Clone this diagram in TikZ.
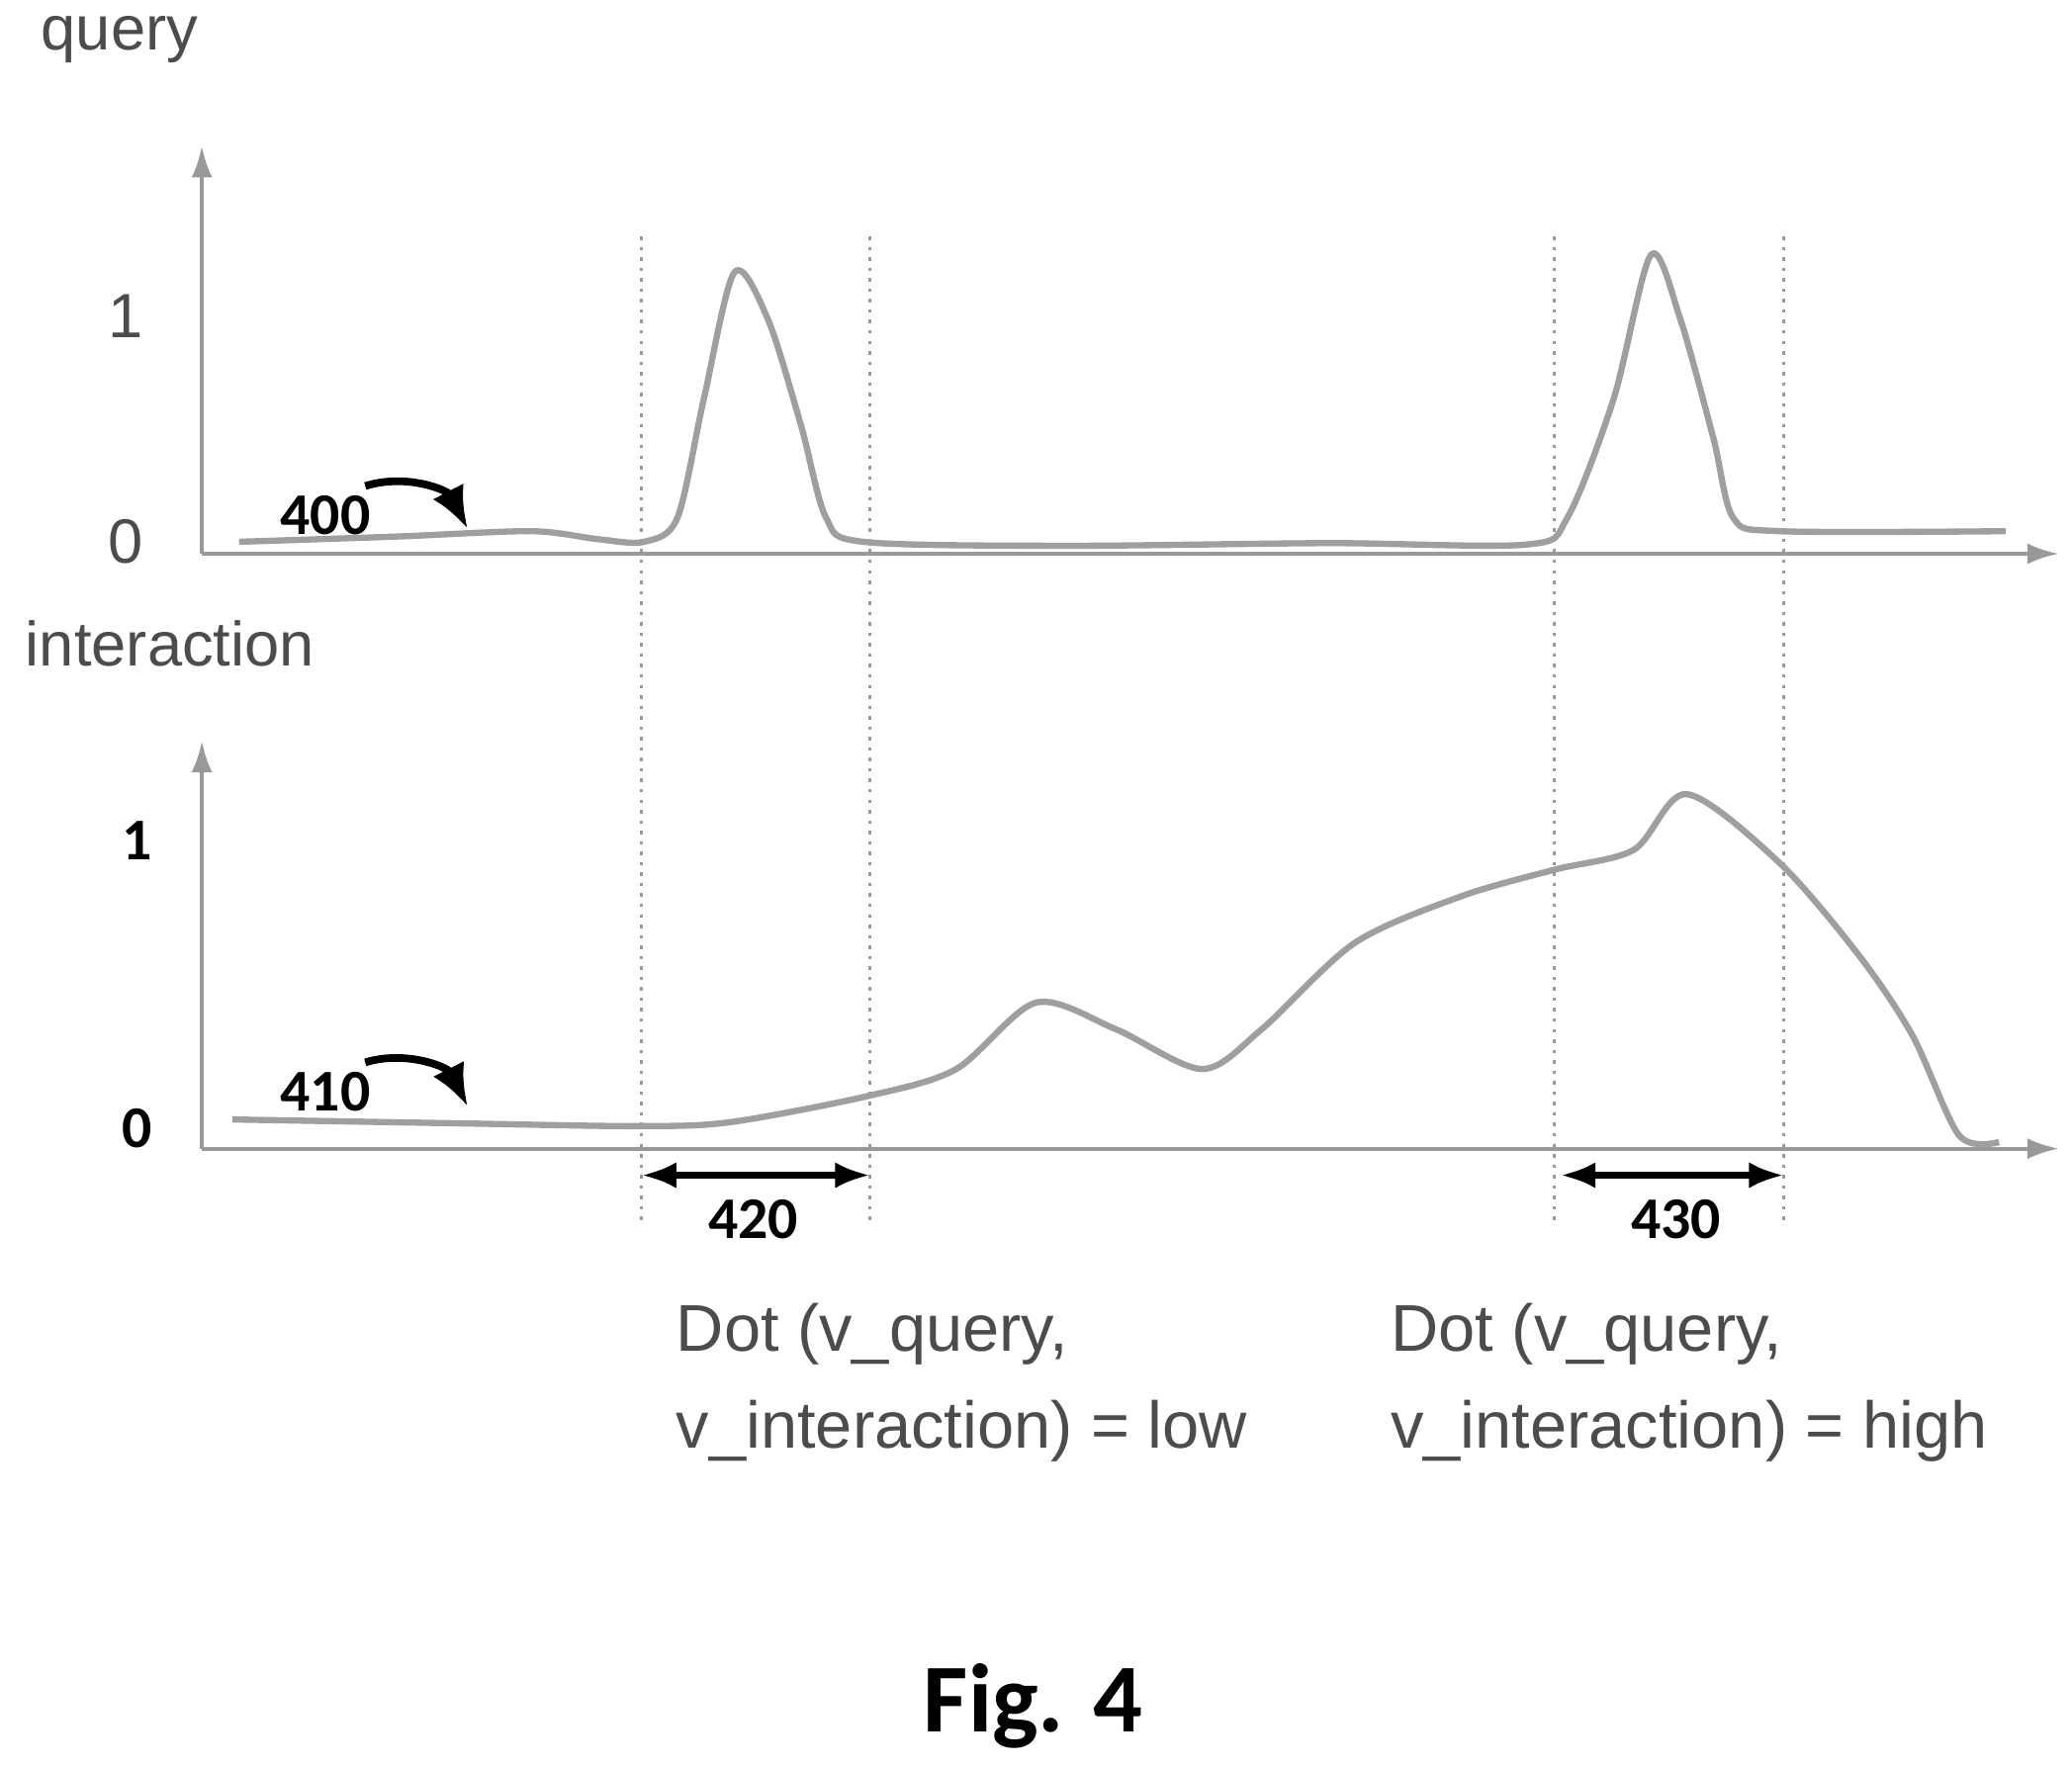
\documentclass[tikz,border=0pt]{standalone}
\usepackage{fontspec}
\setmainfont{Liberation Sans}
\newfontfamily\calib{Carlito}
\usetikzlibrary{arrows.meta}
\tikzset{
  axisline/.style={gray!80, line width=1.2pt, -{Latex[length=9pt,width=6pt]}},
  guide/.style={gray!80, line width=1pt, dotted},
  signal/.style={gray!75, line width=1.8pt},
  lbl/.style={font=\fontsize{18}{22}\selectfont, text=gray!60!black},
  refnum/.style={font=\calib\bfseries\fontsize{17}{20}\selectfont},
  pointer/.style={line width=2.2pt, -{Latex[length=12pt,width=10pt]}}
}
\begin{document}
\begin{tikzpicture}[x=0.01343cm, y=-0.01343cm]
        \useasboundingbox (0,0) rectangle (1560,1331);
        % axes, query panel
        \coordinate (qo) at (152,417);
        \draw[axisline] (qo) -- (152,110);
        \draw[axisline] (qo) -- (1550,417);
        \node[lbl] (qlab) at (90,30) {query};
        \node[lbl] (q1) at (95,238) {1};
        \node[lbl] (q0) at (95,408) {0};
        % axes, interaction panel
        \coordinate (io) at (152,865);
        \draw[axisline] (io) -- (152,558);
        \draw[axisline] (io) -- (1550,865);
        \node[lbl] (ilab) at (128,485) {interaction};
        \node[refnum] (i1) at (103,633) {1};
        \node[refnum] (i0) at (103,850) {0};

        % dotted guides
        \foreach \gx in {483,655,1170,1343}
            \draw[guide] (\gx,178) -- (\gx,920);

        % query signal
        \draw[signal] plot[smooth, tension=0.5] coordinates {
            (180,408) (300,404) (400,400) (450,406) (485,408) (510,390)
            (530,300) (553,205) (578,240) (603,320) (622,390) (650,408)
            (800,411) (1000,409) (1150,410) (1180,390) (1215,300) (1243,192)
            (1265,240) (1290,330) (1305,390) (1340,400) (1510,400)};
        \node[refnum] (n400) at (245,388) {400};
        \coordinate (s400) at (275,366);
        \coordinate (t400) at (352,398);
        \draw[pointer] (s400) to[bend left=40] (t400);

        % interaction signal
        \draw[signal] plot[smooth, tension=0.5] coordinates {
            (175,843) (350,846) (480,848) (550,845) (655,825) (720,805)
            (780,755) (840,775) (905,805) (950,775) (1020,710) (1100,675)
            (1170,655) (1230,640) (1270,598) (1340,650) (1400,720)
            (1440,780) (1475,855) (1505,860)};
        \node[refnum] (n410) at (245,822) {410};
        \coordinate (s410) at (275,800);
        \coordinate (t410) at (352,833);
        \draw[pointer] (s410) to[bend left=40] (t410);

        % windows
        \coordinate (w1a) at (483,885);
        \coordinate (w1b) at (655,885);
        \draw[line width=1.8pt, {Latex[length=10pt]}-{Latex[length=10pt]}] (w1a) -- (w1b);
        \node[refnum] (n420) at (567,918) {420};
        \coordinate (w2a) at (1175,885);
        \coordinate (w2b) at (1343,885);
        \draw[line width=1.8pt, {Latex[length=10pt]}-{Latex[length=10pt]}] (w2a) -- (w2b);
        \node[refnum] (n430) at (1262,918) {430};

        % dot products
        \node[lbl, anchor=north west, align=left, font=\fontsize{19}{28}\selectfont] (dlow) at (500,972)
            {Dot (v\_query,\\v\_interaction) = low};
        \node[lbl, anchor=north west, align=left, font=\fontsize{19}{28}\selectfont] (dhigh) at (1038,972)
            {Dot (v\_query,\\v\_interaction) = high};

        \node[font=\calib\bfseries\fontsize{28}{32}\selectfont] (cap) at (778,1285) {Fig. 4};
    \end{tikzpicture}
\end{document}
